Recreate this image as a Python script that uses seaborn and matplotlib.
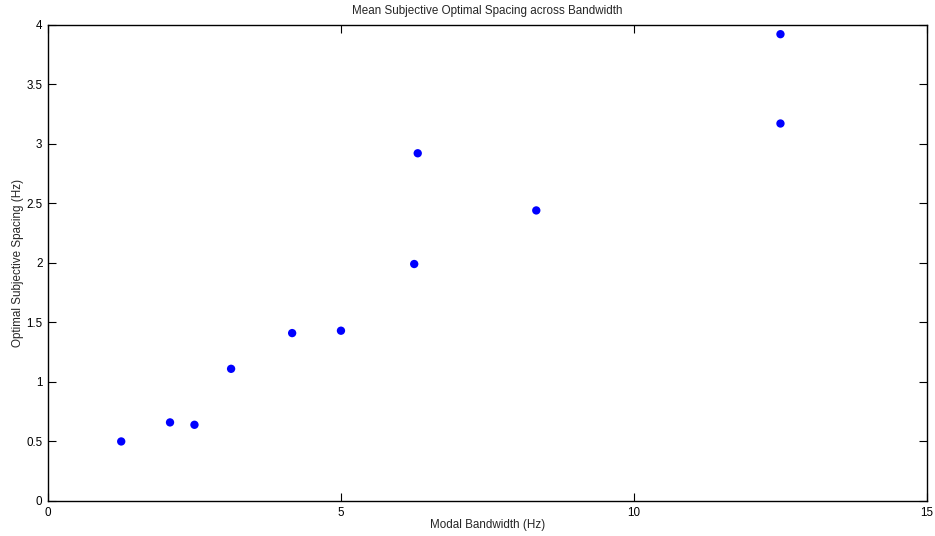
import matplotlib
matplotlib.use("Agg")
import matplotlib.pyplot as plt
import seaborn as sns
import pandas as pd

# Modal bandwidth (Hz) and mean subjective optimal spacing (Hz)
bandwidth = [1.25, 2.083, 2.5, 3.125, 4.167, 5.0, 6.25, 6.31, 8.333, 12.5, 12.5]
spacing = [0.50, 0.66, 0.64, 1.11, 1.41, 1.43, 1.99, 2.92, 2.44, 3.17, 3.92]
x_ticks = [0, 5, 10, 15]
y_ticks = [0, 0.5, 1, 1.5, 2, 2.5, 3, 3.5, 4]
y_tick_labels = ["0", "0.5", "1", "1.5", "2", "2.5", "3", "3.5", "4"]

df = pd.DataFrame({"bandwidth": bandwidth, "spacing": spacing})

sns.set_style("white")
plt.rcParams["font.family"] = ["Liberation Sans", "DejaVu Sans"]

fig = plt.figure(figsize=(9.35, 5.36), dpi=100)
ax = fig.add_axes([0.0513, 0.0653, 0.9401, 0.8887])

sns.scatterplot(data=df, x="bandwidth", y="spacing", ax=ax,
                color="#0000ff", s=36, edgecolor="none", linewidth=0)

ax.set_xlim(0, 15)
ax.set_ylim(0, 4)
ax.set_xticks(x_ticks)
ax.set_xticklabels([str(t) for t in x_ticks])
ax.set_yticks(y_ticks)
ax.set_yticklabels(y_tick_labels)

for side in ["left", "right", "top", "bottom"]:
    ax.spines[side].set_visible(True)
    ax.spines[side].set_color("black")
    ax.spines[side].set_linewidth(1.0)

ax.tick_params(direction="in", length=6, width=0.8, colors="black",
               labelsize=8.4, top=True, right=True, bottom=True, left=True,
               pad=4)

ax.set_xlabel("Modal Bandwidth (Hz)", fontsize=8.4, labelpad=0.5)
ax.set_ylabel("Optimal Subjective Spacing (Hz)", fontsize=8.4, labelpad=2)
ax.set_title("Mean Subjective Optimal Spacing across Bandwidth", fontsize=8.4, pad=8)

fig.savefig("out.png", dpi=100, facecolor="white")
